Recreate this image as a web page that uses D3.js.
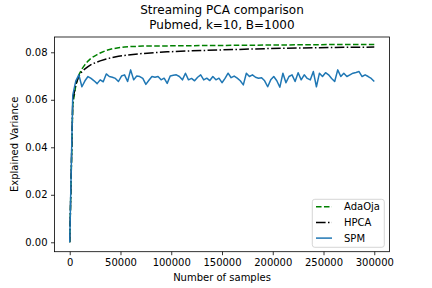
<!DOCTYPE html>
<html><head><meta charset="utf-8">
<script src="https://cdn.jsdelivr.net/npm/d3@7"></script>
<style>body{margin:0;background:#fff}svg{display:block;font-family:"DejaVu Sans",sans-serif}</style>
</head><body>
<svg id="c" width="432" height="288"></svg>
<script>
const titleLines = ["Streaming PCA comparison", "Pubmed, k=10, B=1000"];
const xLabel = "Number of samples";
const yLabel = "Explained Variance";
const xTicks = [0, 50000, 100000, 150000, 200000, 250000, 300000];
const yTicks = [0.00, 0.02, 0.04, 0.06, 0.08];
const seriesNames = ["AdaOja", "HPCA", "SPM"];

// SPM: one value every 3000 samples
const spmStep = 3000;
const spmValues = [
0.0000,0.0620,0.0680,0.0705,0.0655,0.0680,0.0698,0.0690,0.0680,0.0668,
0.0684,0.0676,0.0709,0.0698,0.0695,0.0690,0.0677,0.0700,0.0705,0.0677,
0.0726,0.0684,0.0700,0.0698,0.0690,0.0665,0.0682,0.0698,0.0695,0.0698,
0.0684,0.0691,0.0669,0.0700,0.0703,0.0705,0.0698,0.0684,0.0712,0.0684,
0.0690,0.0680,0.0695,0.0705,0.0684,0.0691,0.0681,0.0698,0.0684,0.0691,
0.0672,0.0690,0.0712,0.0693,0.0700,0.0691,0.0680,0.0663,0.0712,0.0698,
0.0705,0.0695,0.0691,0.0693,0.0680,0.0655,0.0684,0.0698,0.0680,0.0653,
0.0712,0.0672,0.0698,0.0705,0.0677,0.0714,0.0684,0.0705,0.0690,0.0684,
0.0719,0.0655,0.0712,0.0698,0.0714,0.0705,0.0690,0.0677,0.0726,0.0698,
0.0712,0.0698,0.0705,0.0712,0.0715,0.0719,0.0698,0.0705,0.0698,0.0690,
0.0677];

// Smooth curves sampled at these sample counts
const smoothX = [0,3000,6000,9000,12000,15000,18000,21000,24000,27000,30000,36000,42000,48000,54000,60000,72000,84000,96000,120000,150000,180000,210000,240000,270000,300000];
const adaOjaValues = [0,0.0580,0.0660,0.0705,0.0730,0.0748,0.0763,0.0775,0.0783,0.0790,0.0797,0.0808,0.0815,0.0819,0.0822,0.0824,0.0826,0.0826,0.0827,0.0828,0.0829,0.0830,0.0831,0.0832,0.0833,0.0833];
const hpcaValues   = [0,0.0600,0.0665,0.0700,0.0718,0.0730,0.0740,0.0748,0.0754,0.0759,0.0764,0.0772,0.0778,0.0783,0.0787,0.0790,0.0795,0.0799,0.0802,0.0806,0.0810,0.0814,0.0817,0.0819,0.0821,0.0822];

const svg = d3.select("#c");
const L = 54.5, R = 389.5, T = 37, B = 251.7;
const x = d3.scaleLinear().domain([-15000, 315000]).range([L, R]);
const y = d3.scaleLinear().domain([-0.00396, 0.08644]).range([B, T]);

const line = d3.line().x(d => x(d[0])).y(d => y(d[1]));
const spmData = spmValues.map((v, i) => [i * spmStep, v]);
const adaData = smoothX.map((s, i) => [s, adaOjaValues[i]]);
const hpcaData = smoothX.map((s, i) => [s, hpcaValues[i]]);

const clip = svg.append("clipPath").attr("id","cp").append("rect")
  .attr("x", L).attr("y", T).attr("width", R-L).attr("height", B-T);
const g = svg.append("g").attr("clip-path","url(#cp)");
const styles = [
  {data: adaData, color: "#008000", dash: "5.55,2.4"},
  {data: hpcaData, color: "#000000", dash: "9.6,2.4,1.5,2.4"},
  {data: spmData, color: "#1f77b4", dash: null}
];
styles.forEach(s => {
  g.append("path").attr("d", line(s.data)).attr("fill","none")
    .attr("stroke", s.color).attr("stroke-width", 1.5)
    .attr("stroke-dasharray", s.dash).attr("stroke-linejoin","round");
});

// axes
const xa = svg.append("g").attr("transform", `translate(0,${B})`)
  .call(d3.axisBottom(x).tickValues(xTicks).tickSize(3.5).tickPadding(3.5).tickFormat(d3.format("d")));
const ya = svg.append("g").attr("transform", `translate(${L},0)`)
  .call(d3.axisLeft(y).tickValues(yTicks).tickSize(3.5).tickPadding(3.5).tickFormat(d3.format(".2f")));
[xa, ya].forEach(a => {
  a.select(".domain").remove();
  a.selectAll("line").attr("stroke","#000").attr("stroke-width",0.8);
  a.selectAll("text").attr("font-size","10px").attr("fill","#000").attr("font-family","DejaVu Sans");
});
svg.append("rect").attr("x",L).attr("y",T).attr("width",R-L).attr("height",B-T)
  .attr("fill","none").attr("stroke","#000").attr("stroke-width",0.8);

// titles and labels
svg.selectAll("text.title").data(titleLines).enter().append("text")
  .attr("x", (L+R)/2).attr("y", (d,i) => 14 + i*15).attr("text-anchor","middle")
  .attr("font-size","12px").attr("fill","#000").text(d => d);
svg.append("text").attr("x",(L+R)/2).attr("y",281).attr("text-anchor","middle")
  .attr("font-size","10px").attr("fill","#000").text(xLabel);
svg.append("text").attr("transform",`translate(18,${(T+B)/2}) rotate(-90)`)
  .attr("text-anchor","middle").attr("font-size","10px").attr("fill","#000").text(yLabel);

// legend
const lg = svg.append("g");
lg.append("rect").attr("x",312.3).attr("y",199.3).attr("width",72).attr("height",48)
  .attr("rx",2.5).attr("fill","#fff").attr("fill-opacity",0.8).attr("stroke","#ccc").attr("stroke-width",0.8);
seriesNames.forEach((n, i) => {
  const yy = 206.7 + i*15.7;
  lg.append("line").attr("x1",316).attr("x2",332).attr("y1",yy).attr("y2",yy)
    .attr("stroke", styles[i].color).attr("stroke-width",1.5).attr("stroke-dasharray", styles[i].dash);
  lg.append("text").attr("x",344).attr("y",yy+3.6).attr("font-size","10px").attr("fill","#000").text(n);
});
</script>
</body></html>
